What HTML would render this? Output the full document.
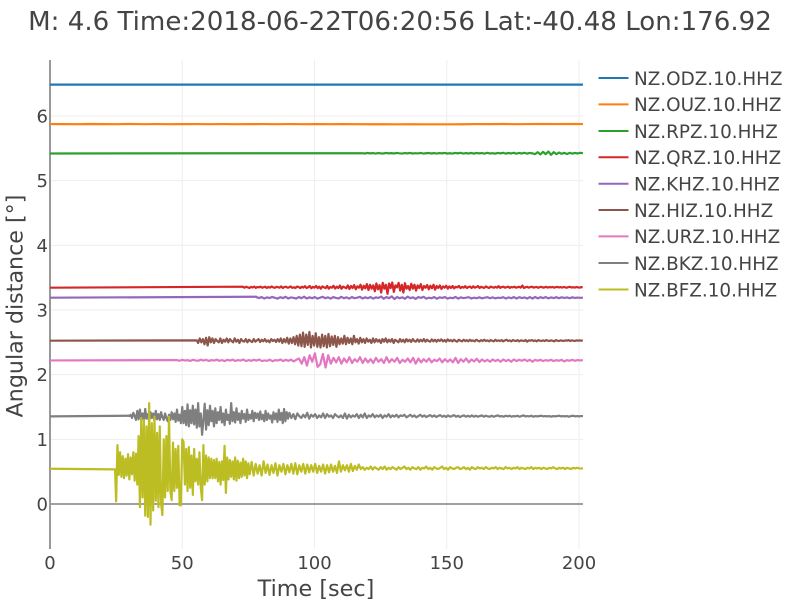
<!DOCTYPE html>
<html>
<head>
<meta charset="utf-8">
<title>Seismic record section</title>
<style>
html,body{margin:0;padding:0;background:#fff;}
svg{display:block;font-family:"DejaVu Sans",sans-serif;fill:#444;}
</style>
</head>
<body>
<svg id="chart" width="800" height="600" viewBox="0 0 800 600" xmlns="http://www.w3.org/2000/svg">
<text x="400" y="30" text-anchor="middle" font-size="26.1" fill="#444">M: 4.6 Time:2018-06-22T06:20:56 Lat:-40.48 Lon:176.92</text>
<text x="316" y="596" text-anchor="middle" font-size="22.3" fill="#444">Time [sec]</text>
<text transform="translate(22.5,306) rotate(-90)" text-anchor="middle" font-size="22.2" fill="#444">Angular distance [°]</text>
<g id="grid"></g>
<g id="axes"></g>
<g id="traces"></g>
<g id="legend"></g>
</svg>
<script>
const xTicks = [0, 50, 100, 150, 200];
const yTicks = [0, 1, 2, 3, 4, 5, 6];
const traceNames = ["NZ.ODZ.10.HHZ","NZ.OUZ.10.HHZ","NZ.RPZ.10.HHZ","NZ.QRZ.10.HHZ","NZ.KHZ.10.HHZ","NZ.HIZ.10.HHZ","NZ.URZ.10.HHZ","NZ.BKZ.10.HHZ","NZ.BFZ.10.HHZ"];
const traceColors = ["#1f77b4","#ff7f0e","#2ca02c","#d62728","#9467bd","#8c564b","#e377c2","#7f7f7f","#bcbd22"];

const odzTimes = [0, 201.5];
const odzValues = [6.485, 6.485];

const ouzStart = 0;
const ouzStep = 5.0375;
const ouzValues = [5.875,5.874,5.873,5.876,5.874,5.873,5.877,5.873,5.875,5.873,
5.874,5.875,5.873,5.875,5.873,5.874,5.875,5.873,5.875,5.873,
5.874,5.873,5.874,5.873,5.872,5.872,5.871,5.872,5.871,5.871,
5.871,5.872,5.875,5.874,5.876,5.873,5.875,5.876,5.875,5.876,5.875];

const rpzLeadTimes = [0, 118];
const rpzLeadValues = [5.42, 5.425];
const rpzStart = 118;
const rpzStep = 1.006;
const rpzValues = [5.425,5.42,5.428,5.422,5.426,5.419,5.427,5.422,5.42,5.428,
5.422,5.426,5.42,5.428,5.423,5.419,5.427,5.422,5.429,5.42,
5.425,5.421,5.428,5.419,5.424,5.428,5.42,5.426,5.419,5.427,
5.422,5.429,5.42,5.424,5.419,5.428,5.422,5.43,5.419,5.426,
5.42,5.428,5.418,5.428,5.422,5.426,5.418,5.43,5.42,5.425,
5.418,5.428,5.422,5.43,5.418,5.428,5.42,5.431,5.417,5.428,
5.42,5.43,5.418,5.428,5.422,5.41,5.44,5.405,5.445,5.41,
5.45,5.4,5.44,5.41,5.435,5.415,5.43,5.412,5.43,5.418,5.428,5.42,5.43,5.425];

const qrzLeadTimes = [0, 73];
const qrzLeadValues = [3.345, 3.36];
const qrzStart = 73;
const qrzStep = 0.6;
const qrzValues = [3.355,3.345,3.36,3.35,3.34,3.358,3.348,3.362,3.342,3.355,
3.35,3.362,3.344,3.352,3.36,3.34,3.356,3.346,3.364,3.35,
3.342,3.358,3.352,3.345,3.365,3.34,3.355,3.36,3.345,3.35,
3.365,3.342,3.352,3.34,3.362,3.356,3.338,3.36,3.346,3.368,
3.34,3.352,3.37,3.336,3.358,3.345,3.372,3.338,3.36,3.33,
3.365,3.35,3.338,3.372,3.33,3.355,3.345,3.375,3.332,3.36,
3.34,3.378,3.328,3.362,3.35,3.335,3.38,3.325,3.37,3.34,
3.385,3.32,3.365,3.345,3.39,3.315,3.375,3.335,3.4,3.31,
3.39,3.33,3.38,3.29,3.41,3.32,3.385,3.27,3.42,3.33,
3.39,3.25,3.41,3.34,3.425,3.28,3.38,3.35,3.42,3.3,
3.39,3.27,3.415,3.33,3.37,3.31,3.405,3.33,3.39,3.3,
3.38,3.34,3.4,3.31,3.37,3.345,3.385,3.32,3.375,3.335,
3.39,3.315,3.37,3.34,3.38,3.325,3.365,3.345,3.375,3.33,
3.365,3.34,3.37,3.335,3.36,3.35,3.372,3.338,3.358,3.345,
3.368,3.34,3.355,3.362,3.34,3.366,3.345,3.355,3.37,3.34,
3.36,3.348,3.342,3.365,3.35,3.34,3.362,3.352,3.344,3.358,
3.345,3.368,3.342,3.355,3.36,3.345,3.352,3.362,3.342,3.355,
3.35,3.36,3.344,3.352,3.358,3.346,3.378,3.34,3.352,3.358,
3.345,3.355,3.36,3.346,3.352,3.356,3.344,3.354,3.358,3.346,
3.35,3.358,3.346,3.354,3.35,3.356,3.345,3.352,3.358,3.348,
3.354,3.346,3.356,3.35,3.345,3.354,3.358,3.348,3.352,3.346,
3.355,3.35,3.345,3.354,3.35];

const khzLeadTimes = [0, 78];
const khzLeadValues = [3.19, 3.205];
const khzStart = 78;
const khzStep = 1.004;
const khzValues = [3.2,3.185,3.2,3.178,3.195,3.185,3.202,3.188,3.176,3.198,
3.184,3.204,3.178,3.194,3.188,3.176,3.2,3.182,3.206,3.178,
3.196,3.182,3.2,3.176,3.19,3.204,3.182,3.196,3.176,3.2,
3.186,3.178,3.204,3.182,3.196,3.176,3.2,3.182,3.19,3.204,
3.178,3.196,3.182,3.2,3.176,3.195,3.186,3.208,3.174,3.2,
3.182,3.21,3.17,3.2,3.182,3.196,3.174,3.206,3.182,3.196,
3.172,3.2,3.186,3.204,3.176,3.19,3.182,3.2,3.174,3.196,
3.186,3.2,3.176,3.19,3.182,3.202,3.176,3.195,3.184,3.19,
3.198,3.178,3.19,3.182,3.196,3.18,3.19,3.198,3.182,3.195,
3.18,3.19,3.186,3.198,3.178,3.195,3.182,3.2,3.178,3.198,
3.184,3.195,3.178,3.2,3.176,3.202,3.18,3.198,3.184,3.2,
3.18,3.195,3.184,3.198,3.182,3.196,3.186,3.194,3.182,3.196,3.186,3.192,3.188,3.19];

const hizLeadTimes = [0, 55.5];
const hizLeadValues = [2.525, 2.53];
const hizStart = 56;
const hizStep = 0.601;
const hizValues = [2.49,2.56,2.5,2.55,2.47,2.57,2.45,2.58,2.5,2.56,
2.49,2.55,2.52,2.5,2.56,2.49,2.54,2.51,2.56,2.5,
2.55,2.52,2.5,2.56,2.51,2.54,2.49,2.55,2.52,2.51,
2.55,2.5,2.54,2.52,2.505,2.55,2.51,2.53,2.55,2.505,
2.54,2.515,2.55,2.51,2.53,2.5,2.55,2.52,2.54,2.505,
2.55,2.51,2.56,2.49,2.55,2.5,2.57,2.48,2.56,2.49,
2.58,2.47,2.6,2.45,2.62,2.44,2.65,2.43,2.62,2.46,
2.66,2.42,2.6,2.45,2.64,2.43,2.58,2.42,2.62,2.44,
2.6,2.42,2.63,2.44,2.59,2.46,2.6,2.43,2.58,2.47,
2.56,2.48,2.6,2.47,2.57,2.49,2.56,2.47,2.6,2.5,
2.55,2.48,2.57,2.5,2.55,2.49,2.56,2.51,2.54,2.49,
2.56,2.5,2.55,2.51,2.54,2.49,2.55,2.51,2.56,2.5,
2.54,2.51,2.55,2.49,2.54,2.52,2.5,2.55,2.51,2.54,
2.5,2.55,2.515,2.54,2.505,2.55,2.52,2.51,2.545,2.51,
2.54,2.515,2.55,2.51,2.54,2.52,2.51,2.545,2.515,2.54,
2.51,2.54,2.52,2.545,2.515,2.535,2.51,2.545,2.52,2.535,
2.515,2.54,2.52,2.51,2.54,2.525,2.515,2.54,2.52,2.535,
2.515,2.54,2.52,2.53,2.515,2.54,2.525,2.515,2.535,2.52,
2.54,2.52,2.53,2.515,2.535,2.525,2.515,2.54,2.52,2.53,
2.52,2.535,2.515,2.53,2.54,2.52,2.53,2.515,2.535,2.525,
2.52,2.535,2.515,2.53,2.525,2.52,2.535,2.51,2.53,2.525,
2.535,2.52,2.53,2.515,2.535,2.525,2.52,2.53,2.52,2.535,
2.525,2.52,2.53,2.525,2.515,2.535,2.525,2.52,2.53,2.525,
2.52,2.53,2.525,2.535,2.52,2.53,2.525,2.52,2.53,2.525,
2.53,2.525,2.53];

const urzLeadTimes = [0, 48];
const urzLeadValues = [2.22, 2.225];
const urzStart = 48;
const urzStep = 1.003;
const urzValues = [2.225,2.215,2.23,2.218,2.225,2.212,2.23,2.22,2.214,2.232,
2.218,2.23,2.212,2.225,2.218,2.232,2.214,2.225,2.21,2.23,
2.218,2.232,2.212,2.225,2.218,2.235,2.21,2.225,2.214,2.23,
2.218,2.235,2.21,2.22,2.214,2.232,2.208,2.225,2.218,2.235,
2.21,2.23,2.214,2.232,2.205,2.23,2.25,2.17,2.27,2.14,
2.3,2.2,2.33,2.12,2.16,2.32,2.11,2.3,2.17,2.26,
2.19,2.27,2.17,2.25,2.19,2.27,2.18,2.24,2.2,2.27,
2.18,2.25,2.19,2.24,2.18,2.26,2.2,2.24,2.18,2.27,
2.19,2.24,2.2,2.26,2.18,2.23,2.2,2.25,2.19,2.26,
2.17,2.25,2.19,2.24,2.2,2.25,2.19,2.23,2.21,2.25,
2.19,2.24,2.2,2.235,2.19,2.26,2.18,2.24,2.2,2.25,
2.19,2.235,2.205,2.245,2.195,2.235,2.205,2.23,2.2,2.235,
2.21,2.23,2.2,2.235,2.21,2.23,2.2,2.235,2.21,2.23,
2.215,2.235,2.21,2.23,2.2,2.23,2.215,2.23,2.21,2.225,
2.215,2.23,2.21,2.225,2.215,2.23,2.205,2.225,2.215,2.23,
2.215,2.225,2.22,2.225];

const bkzLeadTimes = [0, 30];
const bkzLeadValues = [1.355, 1.365];
const bkzBurstStart = 30;
const bkzBurstStep = 0.5;
const bkzBurstValues = [1.36,1.38,1.33,1.41,1.36,1.3,1.44,1.31,1.46,1.3,
1.4,1.29,1.47,1.32,1.39,1.28,1.42,1.33,1.4,1.29,
1.44,1.31,1.39,1.3,1.42,1.34,1.3,1.4,1.33,1.28,
1.38,1.3,1.42,1.31,1.4,1.27,1.46,1.29,1.38,1.25,
1.5,1.25,1.44,1.22,1.54,1.2,1.45,1.25,1.52,1.23,
1.46,1.18,1.56,1.2,1.4,1.07,1.3,1.55,1.15,1.45,
1.22,1.52,1.28,1.44,1.2,1.48,1.25,1.42,1.3,1.5,
1.26,1.4,1.22,1.46,1.3,1.38,1.24,1.56,1.28,1.42,
1.26,1.48,1.3,1.4,1.25,1.44,1.32,1.39,1.27,1.46,
1.3,1.38,1.32,1.44,1.28,1.41,1.33,1.4,1.3,1.43,
1.31,1.38,1.28,1.44,1.3,1.4,1.32,1.37,1.26,1.42,
1.31,1.4,1.27,1.46,1.3,1.41,1.25,1.47,1.28,1.42,1.32];
const bkzCodaStart = 90.5;
const bkzCodaStep = 0.75;
const bkzCodaValues = [1.41,1.33,1.39,1.31,1.4,1.36,1.33,1.38,1.34,1.41,
1.32,1.38,1.35,1.39,1.33,1.37,1.34,1.4,1.33,1.39,
1.35,1.37,1.33,1.39,1.36,1.34,1.37,1.33,1.4,1.32,
1.38,1.34,1.37,1.35,1.39,1.33,1.38,1.34,1.4,1.33,
1.37,1.35,1.39,1.34,1.37,1.35,1.38,1.33,1.37,1.35,
1.39,1.34,1.37,1.35,1.38,1.34,1.37,1.36,1.38,1.34,
1.36,1.38,1.35,1.37,1.34,1.36,1.38,1.35,1.37,1.345,
1.36,1.375,1.35,1.37,1.345,1.36,1.375,1.35,1.365,1.345,
1.37,1.35,1.36,1.375,1.35,1.365,1.345,1.36,1.37,1.35,
1.365,1.35,1.37,1.35,1.365,1.35,1.36,1.37,1.35,1.365,
1.355,1.35,1.365,1.35,1.36,1.37,1.355,1.36,1.35,1.365,
1.355,1.365,1.35,1.36,1.355,1.365,1.35,1.36,1.37,1.355,
1.36,1.355,1.365,1.35,1.36,1.355,1.36,1.365,1.355,1.36,
1.355,1.36,1.35,1.36,1.355,1.36,1.365,1.355,1.36,1.355,
1.36,1.35,1.36,1.365,1.355,1.36,1.355,1.36,1.36];

const bfzLeadTimes = [0, 24.6];
const bfzLeadValues = [0.545, 0.535];
const bfzBurstStart = 25;
const bfzBurstStep = 0.5;
const bfzBurstValues = [0.04,0.91,0.45,0.8,0.42,0.74,0.4,0.7,0.44,0.77,
0.38,0.72,0.46,0.8,0.36,0.78,0.3,1.05,-0.05,1.33,
0.1,1.3,-0.18,1.2,-0.2,1.56,-0.32,1.25,-0.1,1.35,
0.05,1.1,-0.05,1.2,0.0,-0.17,1.0,0.1,1.05,0.2,
1.35,0.2,0.06,0.95,0.2,0.85,0.25,0.9,-0.02,-0.02,
1.0,0.96,0.3,0.85,0.2,0.88,0.25,0.75,0.14,0.85,
0.35,0.7,0.3,0.8,0.25,0.06,0.91,0.3,0.75,0.35,
0.72,0.4,0.7,0.4,0.68,0.4,0.7,0.35,0.65,0.3,
0.66,0.37,0.9,0.17,0.72,0.38,0.68,0.42,0.66,0.38,
0.72,0.36,0.67,0.4,0.64,0.42,0.7,0.44,0.66,0.4,0.63];
const bfzCodaStart = 75.5;
const bfzCodaStep = 0.75;
const bfzCodaValues = [0.46,0.65,0.44,0.62,0.47,0.6,0.44,0.66,0.48,0.61,
0.45,0.6,0.48,0.63,0.44,0.6,0.5,0.62,0.46,0.6,
0.49,0.62,0.47,0.63,0.46,0.6,0.5,0.62,0.47,0.61,
0.49,0.6,0.5,0.62,0.48,0.59,0.5,0.61,0.47,0.6,
0.49,0.61,0.5,0.59,0.48,0.66,0.5,0.6,0.52,0.6,
0.5,0.62,0.51,0.59,0.53,0.61,0.54,0.57,0.53,0.56,
0.54,0.58,0.53,0.57,0.55,0.53,0.57,0.54,0.58,0.53,
0.56,0.54,0.57,0.55,0.53,0.57,0.54,0.56,0.58,0.54,
0.56,0.53,0.57,0.55,0.54,0.57,0.53,0.56,0.55,0.58,
0.54,0.56,0.53,0.57,0.55,0.54,0.56,0.58,0.54,0.56,
0.53,0.57,0.55,0.54,0.56,0.57,0.54,0.55,0.57,0.54,
0.56,0.53,0.57,0.55,0.54,0.57,0.55,0.56,0.54,0.57,
0.55,0.54,0.56,0.55,0.57,0.54,0.56,0.55,0.54,0.57,
0.55,0.56,0.54,0.56,0.55,0.57,0.54,0.56,0.55,0.54,
0.56,0.55,0.57,0.54,0.56,0.55,0.56,0.54,0.56,0.55,
0.54,0.56,0.55,0.57,0.55,0.54,0.56,0.55,0.56,0.54,
0.56,0.55,0.54,0.56,0.55,0.56,0.55,0.55,0.55];

const svgNS = "http://www.w3.org/2000/svg";
const plotLeft = 50, plotRight = 583, plotTop = 60, plotBottom = 549;
function xScale(t) { return 50 + t * 2.645; }
function yScale(v) { return 504 - v * 64.67; }

function make(tag, attrs, parent) {
  const el = document.createElementNS(svgNS, tag);
  for (const k in attrs) el.setAttribute(k, attrs[k]);
  parent.appendChild(el);
  return el;
}
function lead(times, values) {
  return times.map(function (t, i) { return [t, values[i]]; });
}
function sampled(start, step, values) {
  return values.map(function (v, i) { return [start + i * step, v]; });
}

const tracePoints = [
  lead(odzTimes, odzValues),
  sampled(ouzStart, ouzStep, ouzValues),
  lead(rpzLeadTimes, rpzLeadValues).concat(sampled(rpzStart, rpzStep, rpzValues)),
  lead(qrzLeadTimes, qrzLeadValues).concat(sampled(qrzStart, qrzStep, qrzValues)),
  lead(khzLeadTimes, khzLeadValues).concat(sampled(khzStart, khzStep, khzValues)),
  lead(hizLeadTimes, hizLeadValues).concat(sampled(hizStart, hizStep, hizValues)),
  lead(urzLeadTimes, urzLeadValues).concat(sampled(urzStart, urzStep, urzValues)),
  lead(bkzLeadTimes, bkzLeadValues).concat(sampled(bkzBurstStart, bkzBurstStep, bkzBurstValues), sampled(bkzCodaStart, bkzCodaStep, bkzCodaValues)),
  lead(bfzLeadTimes, bfzLeadValues).concat(sampled(bfzBurstStart, bfzBurstStep, bfzBurstValues), sampled(bfzCodaStart, bfzCodaStep, bfzCodaValues))
];

const gridGroup = document.getElementById("grid");
const axesGroup = document.getElementById("axes");
const traceGroup = document.getElementById("traces");
const legendGroup = document.getElementById("legend");

xTicks.forEach(function (t) {
  const line = make("line", {x1: xScale(t), x2: xScale(t), y1: plotTop, y2: plotBottom, stroke: "#eee", "stroke-width": 1}, gridGroup);
  
  
  const label = make("text", {x: xScale(t), y: 569, "text-anchor": "middle", "font-size": 18, fill: "#444"}, axesGroup);
  label.textContent = String(t);
  
  
});
yTicks.forEach(function (v) {
  if (v !== 0) {
    const line = make("line", {x1: plotLeft, x2: plotRight, y1: yScale(v), y2: yScale(v), stroke: "#eee", "stroke-width": 1}, gridGroup);
    
    
  }
  const label = make("text", {x: 48, y: yScale(v) + 6.5, "text-anchor": "end", "font-size": 18, fill: "#444"}, axesGroup);
  label.textContent = String(v);
  
  
});
const zeroLine = make("line", {x1: plotLeft, x2: plotRight, y1: yScale(0), y2: yScale(0), stroke: "#808080", "stroke-width": 1.5}, axesGroup);


const yAxisLine = make("line", {x1: plotLeft, x2: plotLeft, y1: plotTop, y2: plotBottom, stroke: "#999", "stroke-width": 2}, axesGroup);



tracePoints.forEach(function (pts, i) {
  const d = pts.map(function (p) { return xScale(p[0]).toFixed(2) + "," + yScale(p[1]).toFixed(2); }).join(" ");
  const path = make("polyline", {points: d, fill: "none", stroke: traceColors[i], "stroke-width": 2.2, "stroke-linejoin": "round"}, traceGroup);
  
  
});

const legendRows = [78, 104.4, 131, 157.3, 183.7, 210, 236.4, 263, 289.5];
traceNames.forEach(function (name, i) {
  const swatch = make("line", {x1: 598.5, x2: 628.5, y1: legendRows[i], y2: legendRows[i], stroke: traceColors[i], "stroke-width": 2}, legendGroup);
  
  
  const label = make("text", {x: 634, y: legendRows[i] + 6.8, "font-size": 18.36, fill: "#444"}, legendGroup);
  label.textContent = name;
  
  
});
</script>
</body>
</html>
